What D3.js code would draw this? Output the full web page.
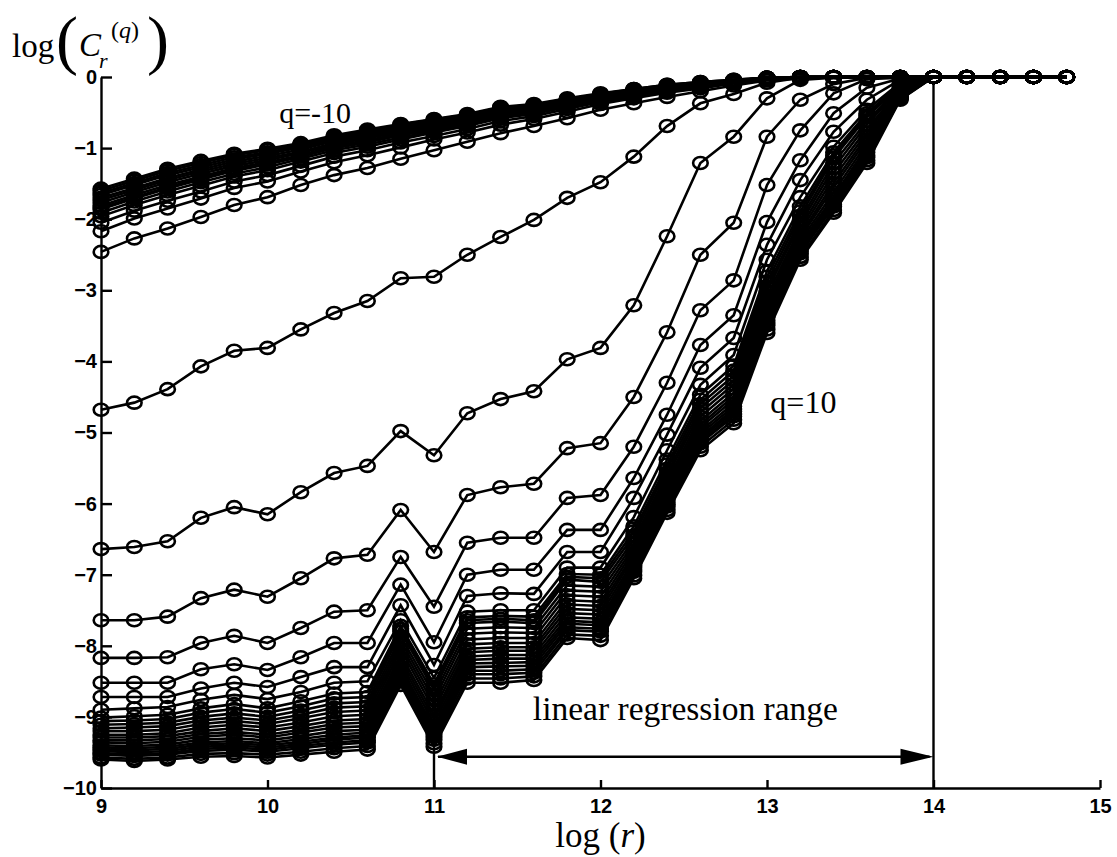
<!DOCTYPE html>
<html>
<head>
<meta charset="utf-8">
<title>log C_r^(q) against log r</title>
<style>
  body { margin: 0; background: #fff; }
  .axis path, .axis line { stroke: #000; stroke-width: 2.4px; fill: none; }
  .axis text { font-family: "Liberation Sans", Arial, sans-serif; font-weight: bold; font-size: 20px; fill: #000; }
  .serif { font-family: "Liberation Serif", "Times New Roman", serif; fill: #000; }
  .curve { fill: none; stroke: #000; stroke-width: 2.6px; }
  .marker { fill: none; stroke: #000; stroke-width: 2.6px; }
</style>
</head>
<body>
<script src="https://d3js.org/d3.v7.min.js"></script>
<script>
// log(r) sample points
const logR = [9.0, 9.2, 9.4, 9.6, 9.8, 10.0, 10.2, 10.4, 10.6, 10.8,
              11.0, 11.2, 11.4, 11.6, 11.8, 12.0, 12.2, 12.4, 12.6, 12.8,
              13.0, 13.2, 13.4, 13.6, 13.8, 14.0, 14.2, 14.4, 14.6, 14.8];

// log(C_r^(q)), one array per curve, from q=-10 (c01, top) down to q=10 (c39, bottom)
// upper bundle
const c01 = [-1.57,-1.43,-1.29,-1.18,-1.08,-1.01,-0.93,-0.82,-0.74,-0.66,-0.59,-0.52,-0.42,-0.38,-0.30,-0.23,-0.17,-0.11,-0.07,-0.04,-0.01,0,0,0,0,0,0,0,0,0];
const c02 = [-1.60,-1.46,-1.32,-1.21,-1.10,-1.03,-0.95,-0.84,-0.76,-0.67,-0.60,-0.53,-0.43,-0.39,-0.31,-0.24,-0.17,-0.11,-0.07,-0.04,-0.01,0,0,0,0,0,0,0,0,0];
const c03 = [-1.63,-1.49,-1.35,-1.24,-1.13,-1.06,-0.97,-0.86,-0.78,-0.69,-0.62,-0.55,-0.45,-0.40,-0.32,-0.25,-0.18,-0.12,-0.08,-0.05,-0.01,0,0,0,0,0,0,0,0,0];
const c04 = [-1.66,-1.52,-1.38,-1.27,-1.16,-1.08,-0.99,-0.88,-0.80,-0.71,-0.64,-0.56,-0.46,-0.41,-0.33,-0.25,-0.19,-0.13,-0.08,-0.05,-0.01,0,0,0,0,0,0,0,0,0];
const c05 = [-1.70,-1.56,-1.42,-1.30,-1.19,-1.11,-1.02,-0.90,-0.82,-0.73,-0.66,-0.58,-0.48,-0.43,-0.34,-0.26,-0.20,-0.14,-0.09,-0.05,-0.01,0,0,0,0,0,0,0,0,0];
const c06 = [-1.73,-1.59,-1.45,-1.33,-1.22,-1.14,-1.05,-0.93,-0.84,-0.75,-0.68,-0.60,-0.50,-0.44,-0.35,-0.27,-0.21,-0.15,-0.10,-0.06,-0.01,0,0,0,0,0,0,0,0,0];
const c07 = [-1.77,-1.62,-1.48,-1.36,-1.25,-1.17,-1.07,-0.95,-0.86,-0.77,-0.69,-0.61,-0.51,-0.45,-0.36,-0.28,-0.22,-0.15,-0.10,-0.06,-0.01,0,0,0,0,0,0,0,0,0];
const c08 = [-1.81,-1.66,-1.52,-1.40,-1.28,-1.20,-1.10,-0.97,-0.89,-0.79,-0.71,-0.63,-0.52,-0.47,-0.37,-0.29,-0.23,-0.16,-0.11,-0.06,-0.02,0,0,0,0,0,0,0,0,0];
const c09 = [-1.84,-1.69,-1.55,-1.42,-1.30,-1.22,-1.11,-0.99,-0.91,-0.81,-0.73,-0.64,-0.53,-0.48,-0.38,-0.30,-0.24,-0.17,-0.11,-0.07,-0.02,0,0,0,0,0,0,0,0,0];
const c10 = [-1.86,-1.71,-1.57,-1.44,-1.32,-1.23,-1.12,-1.00,-0.92,-0.82,-0.74,-0.65,-0.54,-0.48,-0.39,-0.31,-0.24,-0.17,-0.11,-0.07,-0.02,0,0,0,0,0,0,0,0,0];
const c11 = [-1.91,-1.75,-1.61,-1.48,-1.36,-1.27,-1.15,-1.03,-0.95,-0.85,-0.76,-0.67,-0.56,-0.50,-0.40,-0.32,-0.25,-0.18,-0.12,-0.07,-0.02,0,0,0,0,0,0,0,0,0];
const c12 = [-1.96,-1.80,-1.66,-1.53,-1.40,-1.31,-1.19,-1.07,-0.98,-0.88,-0.78,-0.69,-0.58,-0.52,-0.42,-0.33,-0.26,-0.18,-0.13,-0.08,-0.02,0,0,0,0,0,0,0,0,0];
const c13 = [-2.05,-1.88,-1.74,-1.61,-1.47,-1.38,-1.25,-1.12,-1.03,-0.92,-0.83,-0.73,-0.62,-0.55,-0.45,-0.35,-0.28,-0.20,-0.14,-0.08,-0.03,-0.01,0,0,0,0,0,0,0,0];
const c14 = [-2.17,-1.99,-1.85,-1.71,-1.56,-1.47,-1.33,-1.20,-1.10,-0.99,-0.88,-0.78,-0.67,-0.59,-0.49,-0.38,-0.30,-0.22,-0.16,-0.09,-0.03,-0.01,0,0,0,0,0,0,0,0];
const c15 = [-2.46,-2.27,-2.13,-1.97,-1.80,-1.69,-1.52,-1.38,-1.28,-1.15,-1.03,-0.91,-0.79,-0.69,-0.58,-0.46,-0.37,-0.28,-0.20,-0.12,-0.05,-0.02,0,0,0,0,0,0,0,0];
// separated middle curves
const c16 = [-4.68,-4.58,-4.39,-4.07,-3.85,-3.81,-3.55,-3.32,-3.15,-2.83,-2.81,-2.50,-2.25,-2.01,-1.70,-1.48,-1.12,-0.69,-0.37,-0.24,-0.08,-0.01,0,0,0,0,0,0,0,0];
const c17 = [-6.64,-6.61,-6.53,-6.20,-6.05,-6.15,-5.84,-5.57,-5.47,-4.98,-5.32,-4.73,-4.53,-4.42,-3.97,-3.81,-3.21,-2.24,-1.21,-0.84,-0.30,-0.04,-0.01,0,0,0,0,0,0,0];
const c18 = [-7.64,-7.64,-7.59,-7.33,-7.21,-7.31,-7.05,-6.77,-6.72,-6.09,-6.68,-5.88,-5.77,-5.72,-5.22,-5.15,-4.50,-3.59,-2.50,-2.05,-0.84,-0.32,-0.10,-0.01,0,0,0,0,0,0];
const c19 = [-8.17,-8.17,-8.16,-7.96,-7.86,-7.96,-7.75,-7.52,-7.50,-6.75,-7.45,-6.55,-6.48,-6.48,-5.92,-5.88,-5.20,-4.30,-3.28,-2.86,-1.52,-0.75,-0.23,-0.03,-0.01,0,0,0,0,0];
const c20 = [-8.52,-8.52,-8.52,-8.33,-8.26,-8.34,-8.16,-7.96,-7.96,-7.14,-7.95,-7.00,-6.93,-6.93,-6.37,-6.37,-5.64,-4.75,-3.77,-3.35,-2.04,-1.17,-0.51,-0.15,-0.02,0,0,0,0,0];
const c21 = [-8.72,-8.72,-8.72,-8.60,-8.52,-8.58,-8.44,-8.30,-8.30,-7.43,-8.27,-7.30,-7.26,-7.27,-6.68,-6.68,-5.92,-5.03,-4.09,-3.67,-2.36,-1.45,-0.77,-0.32,-0.04,0,0,0,0,0];
const c22 = [-8.90,-8.88,-8.86,-8.76,-8.69,-8.75,-8.65,-8.52,-8.50,-7.64,-8.45,-7.52,-7.50,-7.50,-6.90,-6.90,-6.19,-5.25,-4.33,-3.91,-2.57,-1.69,-0.98,-0.46,-0.08,0,0,0,0,0];
// lower bundle
const c23 = [-9.01,-8.99,-8.97,-8.88,-8.82,-8.88,-8.78,-8.67,-8.65,-7.72,-8.54,-7.60,-7.58,-7.59,-6.99,-7.00,-6.32,-5.38,-4.47,-4.06,-2.73,-1.82,-1.06,-0.51,-0.10,0,0,0,0,0];
const c24 = [-9.06,-9.05,-9.03,-8.94,-8.89,-8.94,-8.85,-8.74,-8.72,-7.76,-8.58,-7.64,-7.62,-7.64,-7.03,-7.05,-6.39,-5.45,-4.54,-4.13,-2.81,-1.89,-1.10,-0.54,-0.12,0,0,0,0,0];
const c25 = [-9.11,-9.10,-9.08,-9.00,-8.95,-9.00,-8.91,-8.81,-8.79,-7.80,-8.62,-7.68,-7.66,-7.68,-7.07,-7.10,-6.45,-5.51,-4.60,-4.20,-2.88,-1.95,-1.14,-0.56,-0.13,0,0,0,0,0];
const c26 = [-9.16,-9.15,-9.13,-9.05,-9.01,-9.05,-8.97,-8.87,-8.85,-7.87,-8.69,-7.76,-7.74,-7.75,-7.15,-7.17,-6.51,-5.57,-4.66,-4.26,-2.95,-2.01,-1.21,-0.62,-0.15,0,0,0,0,0];
const c27 = [-9.20,-9.20,-9.18,-9.10,-9.06,-9.10,-9.02,-8.93,-8.91,-7.93,-8.76,-7.83,-7.81,-7.82,-7.22,-7.24,-6.56,-5.62,-4.72,-4.32,-3.01,-2.06,-1.28,-0.67,-0.16,0,0,0,0,0];
const c28 = [-9.25,-9.25,-9.23,-9.15,-9.11,-9.15,-9.08,-8.99,-8.97,-7.99,-8.83,-7.91,-7.89,-7.89,-7.29,-7.31,-6.61,-5.68,-4.78,-4.38,-3.08,-2.12,-1.35,-0.73,-0.18,0,0,0,0,0];
const c29 = [-9.29,-9.29,-9.27,-9.20,-9.16,-9.20,-9.13,-9.05,-9.03,-8.05,-8.90,-7.98,-7.96,-7.96,-7.36,-7.38,-6.66,-5.73,-4.84,-4.44,-3.14,-2.17,-1.42,-0.78,-0.19,0,0,0,0,0];
const c30 = [-9.33,-9.33,-9.31,-9.24,-9.21,-9.25,-9.18,-9.10,-9.08,-8.12,-8.97,-8.04,-8.02,-8.02,-7.42,-7.44,-6.71,-5.78,-4.89,-4.49,-3.19,-2.22,-1.49,-0.83,-0.21,0,0,0,0,0];
const c31 = [-9.36,-9.37,-9.35,-9.28,-9.25,-9.29,-9.22,-9.15,-9.13,-8.18,-9.03,-8.09,-8.07,-8.07,-7.48,-7.50,-6.75,-5.82,-4.93,-4.54,-3.24,-2.26,-1.55,-0.88,-0.22,0,0,0,0,0];
const c32 = [-9.40,-9.41,-9.39,-9.32,-9.30,-9.33,-9.27,-9.20,-9.18,-8.24,-9.09,-8.15,-8.13,-8.13,-7.54,-7.56,-6.80,-5.87,-4.98,-4.59,-3.29,-2.31,-1.62,-0.93,-0.24,0,0,0,0,0];
const c33 = [-9.43,-9.44,-9.42,-9.36,-9.34,-9.37,-9.31,-9.25,-9.22,-8.30,-9.15,-8.20,-8.18,-8.18,-7.60,-7.62,-6.84,-5.91,-5.02,-4.63,-3.34,-2.35,-1.68,-0.98,-0.25,0,0,0,0,0];
const c34 = [-9.46,-9.47,-9.45,-9.39,-9.37,-9.40,-9.35,-9.29,-9.26,-8.34,-9.20,-8.25,-8.24,-8.23,-7.65,-7.67,-6.87,-5.95,-5.06,-4.67,-3.38,-2.39,-1.72,-1.02,-0.27,0,0,0,0,0];
const c35 = [-9.48,-9.50,-9.48,-9.42,-9.40,-9.43,-9.38,-9.32,-9.29,-8.38,-9.24,-8.30,-8.29,-8.28,-7.69,-7.71,-6.90,-5.98,-5.09,-4.70,-3.42,-2.42,-1.75,-1.06,-0.28,0,0,0,0,0];
const c36 = [-9.51,-9.53,-9.51,-9.45,-9.43,-9.46,-9.41,-9.36,-9.33,-8.42,-9.28,-8.35,-8.35,-8.33,-7.74,-7.76,-6.93,-6.01,-5.12,-4.74,-3.46,-2.45,-1.79,-1.10,-0.29,0,0,0,0,0];
const c37 = [-9.53,-9.55,-9.53,-9.48,-9.46,-9.49,-9.44,-9.39,-9.36,-8.45,-9.32,-8.40,-8.40,-8.38,-7.78,-7.80,-6.96,-6.04,-5.15,-4.77,-3.49,-2.48,-1.82,-1.13,-0.30,0,0,0,0,0];
const c38 = [-9.57,-9.59,-9.57,-9.52,-9.51,-9.53,-9.49,-9.44,-9.41,-8.50,-9.37,-8.46,-8.46,-8.43,-7.84,-7.86,-7.01,-6.09,-5.20,-4.82,-3.55,-2.53,-1.87,-1.17,-0.31,0,0,0,0,0];
const c39 = [-9.60,-9.62,-9.60,-9.56,-9.55,-9.57,-9.53,-9.49,-9.46,-8.55,-9.42,-8.52,-8.52,-8.48,-7.89,-7.92,-7.05,-6.13,-5.25,-4.87,-3.60,-2.57,-1.91,-1.21,-0.32,0,0,0,0,0];

const curves = [c01, c02, c03, c04, c05, c06, c07, c08, c09, c10, c11, c12, c13,
                c14, c15, c16, c17, c18, c19, c20, c21, c22, c23, c24, c25, c26,
                c27, c28, c29, c30, c31, c32, c33, c34, c35, c36, c37, c38, c39];

const xTicks = [9, 10, 11, 12, 13, 14, 15];
const yTicks = [0, -1, -2, -3, -4, -5, -6, -7, -8, -9, -10];
const regressionRange = [11, 14];

const W = 1117, H = 857;
const x = d3.scaleLinear().domain([9, 15]).range([101, 1100]);
const y = d3.scaleLinear().domain([-10, 0]).range([788, 77]);

const svg = d3.select("body").append("svg")
    .attr("width", W)
    .attr("height", H);

// axes, ticks pointing inward like matlab
svg.append("g")
    .attr("class", "axis")
    .attr("transform", `translate(${x(9)},0)`)
    .call(d3.axisLeft(y).tickValues(yTicks).tickFormat(d3.format("d"))
        .tickSizeInner(-11).tickSizeOuter(0).tickPadding(4));

svg.append("g")
    .attr("class", "axis")
    .attr("transform", `translate(0,${y(-10)})`)
    .call(d3.axisBottom(x).tickValues(xTicks).tickFormat(d3.format("d"))
        .tickSizeInner(-8).tickSizeOuter(0).tickPadding(11));

// regression range markers
svg.append("line")
    .attr("x1", x(regressionRange[1])).attr("x2", x(regressionRange[1]))
    .attr("y1", y(0) + 6).attr("y2", y(-10))
    .attr("stroke", "#000").attr("stroke-width", 2.4);

svg.append("line")
    .attr("x1", x(regressionRange[0])).attr("x2", x(regressionRange[0]))
    .attr("y1", y(-9.45)).attr("y2", y(-10))
    .attr("stroke", "#000").attr("stroke-width", 2.4);

const ay = y(-9.56);
svg.append("line")
    .attr("x1", x(regressionRange[0]) + 4).attr("x2", x(regressionRange[1]) - 4)
    .attr("y1", ay).attr("y2", ay)
    .attr("stroke", "#000").attr("stroke-width", 2.4);

const xl = x(regressionRange[0]) + 3, xr = x(regressionRange[1]);
svg.append("polygon")
    .attr("points", `${xl},${ay} ${xl + 30},${ay - 8} ${xl + 30},${ay + 8}`)
    .attr("fill", "#000");
svg.append("polygon")
    .attr("points", `${xr},${ay} ${xr - 33},${ay - 8} ${xr - 33},${ay + 8}`)
    .attr("fill", "#000");

// the curves
const line = d3.line()
    .x((d, i) => x(logR[i]))
    .y(d => y(d));

const g = svg.append("g");
curves.forEach(vals => {
    g.append("path")
        .attr("class", "curve")
        .attr("d", line(vals));
    g.selectAll(null)
        .data(vals)
        .enter().append("ellipse")
        .attr("class", "marker")
        .attr("cx", (d, i) => x(logR[i]))
        .attr("cy", d => y(d))
        .attr("rx", 7.3)
        .attr("ry", 6);
});

// labels
svg.append("text").attr("class", "serif")
    .attr("x", x(10.07)).attr("y", y(-0.65))
    .attr("font-size", 30)
    .text("q=-10");

svg.append("text").attr("class", "serif")
    .attr("x", x(13.02)).attr("y", y(-4.73))
    .attr("font-size", 32)
    .text("q=10");

svg.append("text").attr("class", "serif")
    .attr("x", x(12.51)).attr("y", y(-9.04))
    .attr("text-anchor", "middle")
    .attr("font-size", 33.5)
    .text("linear regression range");

// x axis title
const xt = svg.append("text").attr("class", "serif")
    .attr("x", x(12.0)).attr("y", 847)
    .attr("text-anchor", "middle")
    .attr("font-size", 35);
xt.append("tspan").text("log (");
xt.append("tspan").attr("font-style", "italic").text("r");
xt.append("tspan").text(")");

// y axis title: log( C_r^(q) )
svg.append("text").attr("class", "serif")
    .attr("x", 12).attr("y", 57).attr("font-size", 33).text("log");
svg.append("text").attr("class", "serif")
    .attr("x", 56).attr("y", 62).attr("font-size", 66).text("(");
svg.append("text").attr("class", "serif")
    .attr("x", 79).attr("y", 56).attr("font-size", 33).attr("font-style", "italic").text("C");
svg.append("text").attr("class", "serif")
    .attr("x", 99).attr("y", 68).attr("font-size", 22).attr("font-style", "italic").text("r");
const sup = svg.append("text").attr("class", "serif")
    .attr("x", 111).attr("y", 38).attr("font-size", 24);
sup.append("tspan").text("(");
sup.append("tspan").attr("font-style", "italic").text("q");
sup.append("tspan").text(")");
svg.append("text").attr("class", "serif")
    .attr("x", 147).attr("y", 62).attr("font-size", 66).text(")");
</script>
</body>
</html>
